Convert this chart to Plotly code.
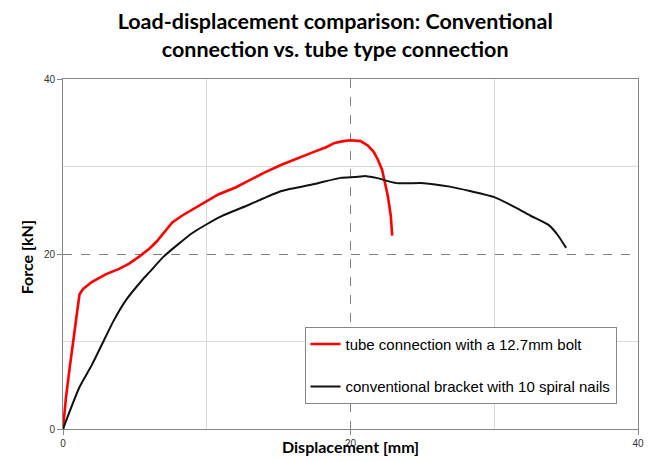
import plotly.graph_objects as go

# Tube connection with a 12.7mm bolt (red)
tube_disp = [0, 0.2, 0.45, 0.65, 0.85, 1.0, 1.15, 1.4, 2.0, 3.0, 3.9, 4.6, 5.3, 6.0, 6.5, 7.0,
             7.6, 8.3, 9.0, 10.0, 10.8, 12.0, 12.9, 14.0, 15.2, 16.5, 17.5, 18.3, 18.9, 19.5,
             20.0, 20.7, 21.2, 21.6, 21.9, 22.2, 22.4, 22.6, 22.8, 22.9]
tube_force = [0, 3.5, 6.8, 9.5, 11.5, 13.6, 15.4, 16.0, 16.8, 17.7, 18.3, 18.9, 19.7, 20.6, 21.4, 22.4,
              23.6, 24.4, 25.1, 26.0, 26.8, 27.6, 28.4, 29.3, 30.2, 31.0, 31.7, 32.2, 32.7, 32.9,
              33.0, 32.9, 32.4, 31.7, 30.8, 29.6, 28.1, 26.6, 24.4, 22.1]

# Conventional bracket with 10 spiral nails (black)
conv_disp = [0, 1.15, 2.0, 2.75, 3.5, 4.37, 5.5, 6.0, 7.0, 8.0, 9.0, 10.0, 11.0, 12.9, 15.2,
             17.5, 19.3, 20.3, 21.1, 21.8, 23.2, 25.1, 26.9, 28.3, 30.0, 31.5, 32.5, 33.8, 34.4, 35.0]
conv_force = [0, 4.8, 7.3, 9.8, 12.3, 14.7, 17.0, 17.9, 19.7, 21.1, 22.4, 23.4, 24.3, 25.6, 27.2,
              28.0, 28.7, 28.8, 28.9, 28.7, 28.1, 28.1, 27.7, 27.2, 26.5, 25.3, 24.4, 23.3, 22.2, 20.7]

major_ticks = [0, 20, 40]
minor_ticks = [10, 30]

fig = go.Figure()
fig.add_trace(go.Scatter(x=tube_disp, y=tube_force, mode="lines",
                         name="tube connection with a 12.7mm bolt",
                         line=dict(color="#ff0000", width=2.6), legendgroup="a"))
fig.add_trace(go.Scatter(x=conv_disp, y=conv_force, mode="lines",
                         name="conventional bracket with 10 spiral nails",
                         line=dict(color="#111111", width=2, shape="spline", smoothing=0.6),
                         legendgroup="b"))

axis_common = dict(
    range=[0, 40], tickvals=major_ticks, ticks="outside", ticklen=5, tickcolor="#868686",
    showline=True, linecolor="#868686", linewidth=1, mirror=True,
    showgrid=True, gridcolor="#808080", griddash="dash", gridwidth=1,
    zeroline=False,
    tickfont=dict(family="Liberation Sans", size=10, color="#333333"),
    minor=dict(tickvals=minor_ticks, showgrid=True, gridcolor="#d9d9d9", gridwidth=1,
               griddash="solid", ticks=""),
)

fig.update_layout(
    width=656, height=461,
    margin=dict(l=63, r=13, t=79, b=32),
    paper_bgcolor="white", plot_bgcolor="white",
    title=dict(text="Load-displacement comparison: Conventional<br>connection vs. tube type connection",
               x=0.511, xanchor="center", y=0.938, yanchor="top",
               font=dict(family="Lato", size=21.5, color="#000000", weight="bold")),
    xaxis=axis_common,
    yaxis=axis_common,
    showlegend=True,
    legend=dict(x=0.42, y=0.292, xanchor="left", yanchor="top",
                bordercolor="#868686", borderwidth=1, bgcolor="white",
                font=dict(family="Liberation Sans", size=15, color="#000000"),
                traceorder="grouped", tracegroupgap=20, itemwidth=30),
    annotations=[
        dict(text="<b>Displacement [mm]</b>", xref="paper", yref="paper", x=0.5, y=-0.05,
             xanchor="center", yanchor="middle", showarrow=False,
             font=dict(family="Lato", size=16, color="#000000")),
        dict(text="<b>Force [kN]</b>", xref="paper", yref="paper", x=-0.063, y=0.49,
             xanchor="center", yanchor="middle", showarrow=False, textangle=-90,
             font=dict(family="Lato", size=16, color="#000000")),
    ],
)

fig.write_html("out.html", config={"displayModeBar": False},
               post_script="document.body.style.margin='0px';")
